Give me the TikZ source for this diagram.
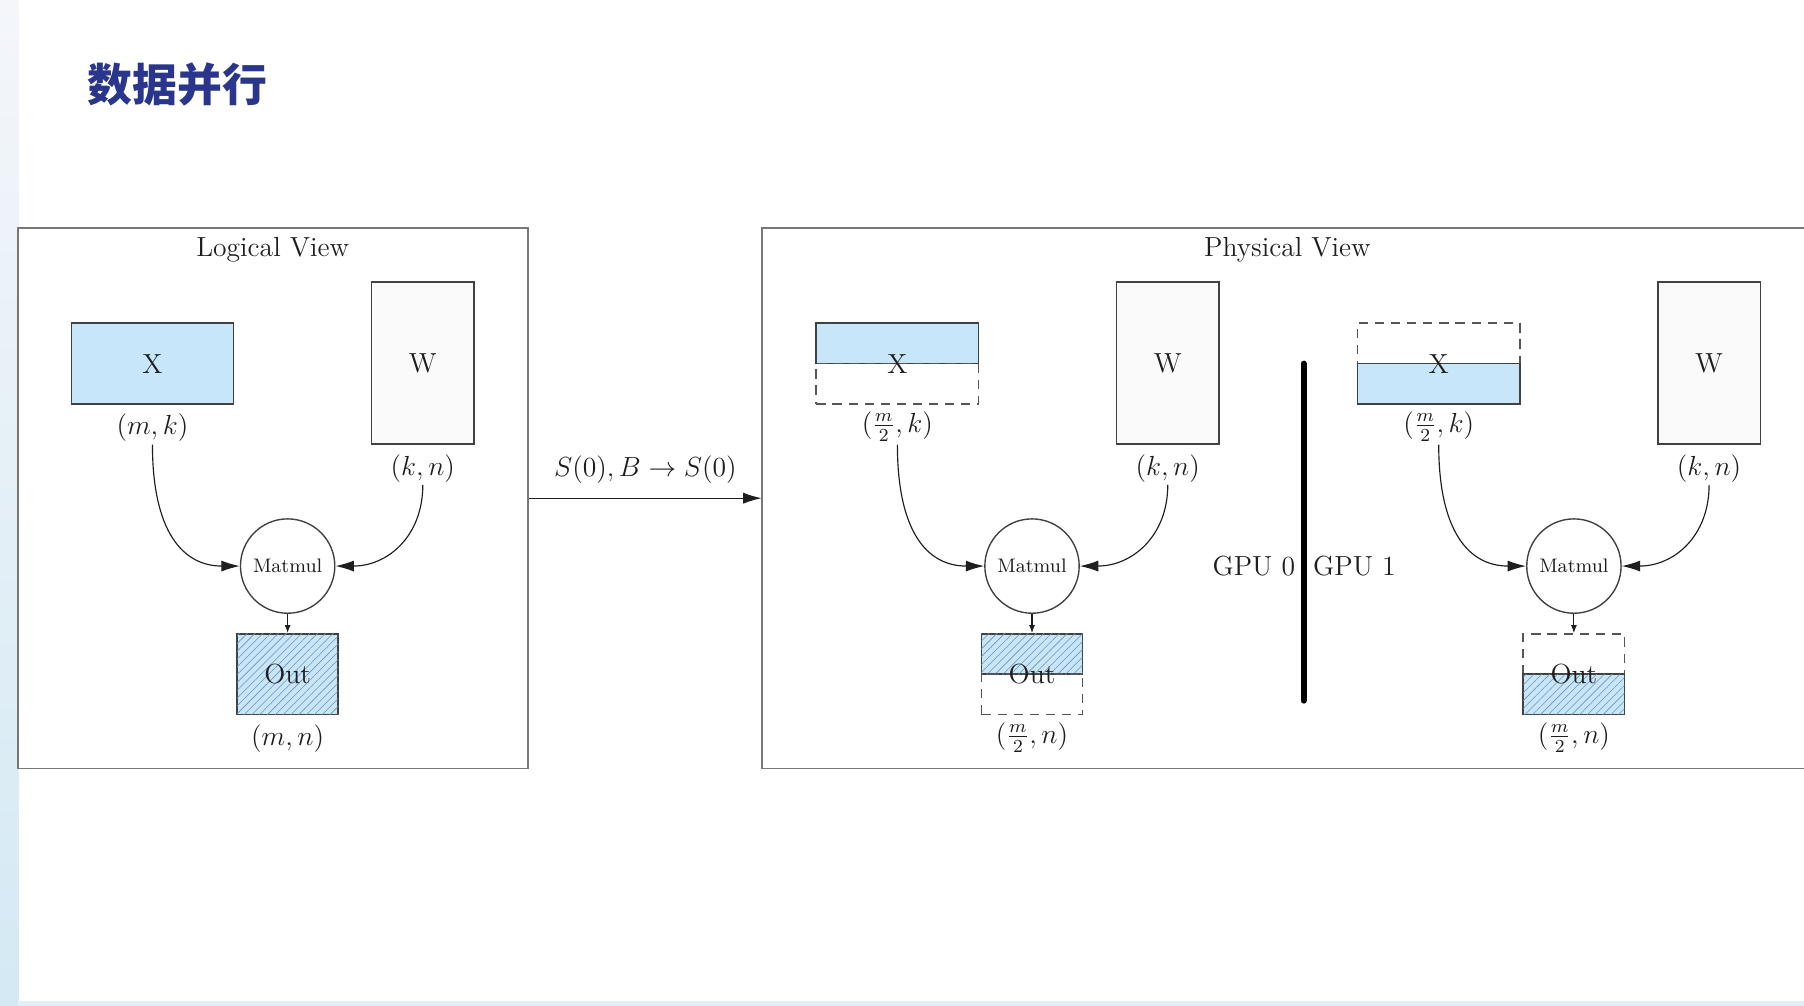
\documentclass[tikz,border=0pt]{standalone}
\usepackage{fontspec}
\newfontfamily\cjk{Noto Sans CJK SC}
\usetikzlibrary{arrows.meta,patterns.meta}
\definecolor{boxblue}{RGB}{199,230,250}
\definecolor{wfill}{RGB}{250,250,250}
\definecolor{hatchc}{RGB}{115,145,172}
\definecolor{titleblue}{RGB}{42,54,140}
\definecolor{boxc}{RGB}{65,65,65}
\definecolor{dashc}{RGB}{85,85,85}
\definecolor{panelc}{RGB}{120,120,120}
\definecolor{txt}{RGB}{30,30,30}
\definecolor{stripa}{RGB}{244,246,250}
\definecolor{stripb}{RGB}{212,233,244}
\tikzset{
  lab/.style={font=\fontsize{12}{14}\selectfont, text=txt, inner sep=1pt},
  paneltitle/.style={font=\fontsize{12}{14}\selectfont, text=txt},
  panelbox/.style={draw=panelc, line width=0.8pt, inner sep=0pt},
  solidbox/.style={draw=boxc, line width=0.7pt, inner sep=0pt, font=\fontsize{12}{14}\selectfont, text=txt},
  dashbox/.style={draw=dashc, line width=0.7pt, dash pattern=on 4pt off 3pt, inner sep=0pt},
  hatched/.style={fill=boxblue, postaction={pattern={Lines[angle=45,distance=2.4pt,line width=0.25pt]}, pattern color=hatchc}},
  opnode/.style={circle, draw=boxc, line width=0.6pt, fill=white, minimum size=41pt, inner sep=0pt, font=\fontsize{8.5}{10}\selectfont, text=txt},
  bigarrow/.style={draw=txt, line width=0.5pt, -{Latex[length=8pt,width=4.8pt]}},
  smallarrow/.style={draw=txt, line width=0.5pt, -{Latex[length=3.5pt,width=2.6pt]}},
  gputext/.style={font=\fontsize{12}{14}\selectfont, text=txt, inner sep=0pt}
}
\begin{document}
\begin{tikzpicture}[x=0.5pt,y=-0.5pt]
\useasboundingbox (0,0) rectangle (1568,874);
% slide background
\fill[white] (0,0) rectangle (1568,874);
\shade[top color=stripa, bottom color=stripb] (0,0) rectangle (16,874);
\fill[stripb!70!white] (16,870) rectangle (1568,874);
% title
\node[anchor=west, text=titleblue, font=\cjk\bfseries\fontsize{19.5}{24}\selectfont, inner sep=0pt] (title) at (76,73) {数据并行};

% ---------------- Logical view ----------------
\node[panelbox, minimum width=221.5pt, minimum height=235pt] (lp) at (237.5,433) {};
\node[paneltitle] (lpt) at (237,217) {Logical View};
\node[solidbox, fill=boxblue, minimum width=70.5pt, minimum height=35pt] (lx) at (132.5,316) {X};
\node[lab] (lxl) at (132.5,372) {$(m,k)$};
\node[solidbox, fill=wfill, minimum width=44.5pt, minimum height=70.5pt] (lw) at (367.5,315.5) {W};
\node[lab] (lwl) at (367.5,407) {$(k,n)$};
\node[opnode] (lm) at (250,492) {Matmul};
\node[solidbox, hatched, minimum width=44pt, minimum height=35pt] (lo) at (250,586) {Out};
\node[lab] (lol) at (250,642) {$(m,n)$};
\draw[bigarrow] (lxl.south) .. controls +(0,75) and +(-50,0) .. (lm.west);
\draw[bigarrow] (lwl.south) .. controls +(0,45) and +(45,0) .. (lm.east);
\draw[smallarrow] (lm.south) -- (lo.north);

% ---------------- arrow between views ----------------
\draw[panelc, line width=0.8pt] (1568,198) -- (662,198) -- (662,668) -- (1568,668);
\coordinate (pw) at (662,433);
\draw[bigarrow] (lp.east) -- node[lab, above=5pt] {$S(0), B \rightarrow S(0)$} (pw);

% ---------------- Physical view ----------------
\node[paneltitle] (ppt) at (1119,217) {Physical View};

% GPU 0
\node[solidbox, fill=boxblue, minimum width=70.5pt, minimum height=17.5pt] (axa) at (780,298.5) {};
\node[dashbox, minimum width=70.5pt, minimum height=17.5pt] (axb) at (780,333.5) {};
\node[lab] (ax) at (780,316) {X};
\node[lab] (axl) at (780,371) {$(\frac{m}{2},k)$};
\node[solidbox, fill=wfill, minimum width=44.5pt, minimum height=70.5pt] (aw) at (1015,315.5) {W};
\node[lab] (awl) at (1015,407) {$(k,n)$};
\node[opnode] (am) at (897,492) {Matmul};
\node[solidbox, hatched, minimum width=44pt, minimum height=17.5pt] (aoa) at (897,568.5) {};
\node[dashbox, minimum width=44pt, minimum height=17.5pt] (aob) at (897,603.5) {};
\node[lab] (ao) at (897,586) {Out};
\node[lab] (aol) at (897,641) {$(\frac{m}{2},n)$};
\draw[bigarrow] (axl.south) .. controls +(0,75) and +(-50,0) .. (am.west);
\draw[bigarrow] (awl.south) .. controls +(0,45) and +(45,0) .. (am.east);
\draw[smallarrow] (am.south) -- (aoa.north);

% divider
\coordinate (dt) at (1133,316);
\coordinate (db) at (1133,609);
\draw[black, line width=2.6pt, line cap=round] (dt) -- (db);
\node[gputext, anchor=east] (g0) at (1126,492) {GPU 0};
\node[gputext, anchor=west] (g1) at (1141,492) {GPU 1};

% GPU 1
\node[dashbox, minimum width=70.5pt, minimum height=17.5pt] (bxa) at (1250.5,298.5) {};
\node[solidbox, fill=boxblue, minimum width=70.5pt, minimum height=17.5pt] (bxb) at (1250.5,333.5) {};
\node[lab] (bx) at (1250.5,316) {X};
\node[lab] (bxl) at (1250.5,371) {$(\frac{m}{2},k)$};
\node[solidbox, fill=wfill, minimum width=44.5pt, minimum height=70.5pt] (bw) at (1485.5,315.5) {W};
\node[lab] (bwl) at (1485.5,407) {$(k,n)$};
\node[opnode] (bm) at (1368,492) {Matmul};
\node[dashbox, minimum width=44pt, minimum height=17.5pt] (boa) at (1368,568.5) {};
\node[solidbox, hatched, minimum width=44pt, minimum height=17.5pt] (bob) at (1368,603.5) {};
\node[lab] (bo) at (1368,586) {Out};
\node[lab] (bol) at (1368,641) {$(\frac{m}{2},n)$};
\draw[bigarrow] (bxl.south) .. controls +(0,75) and +(-50,0) .. (bm.west);
\draw[bigarrow] (bwl.south) .. controls +(0,45) and +(45,0) .. (bm.east);
\draw[smallarrow] (bm.south) -- (boa.north);
\end{tikzpicture}
\end{document}
